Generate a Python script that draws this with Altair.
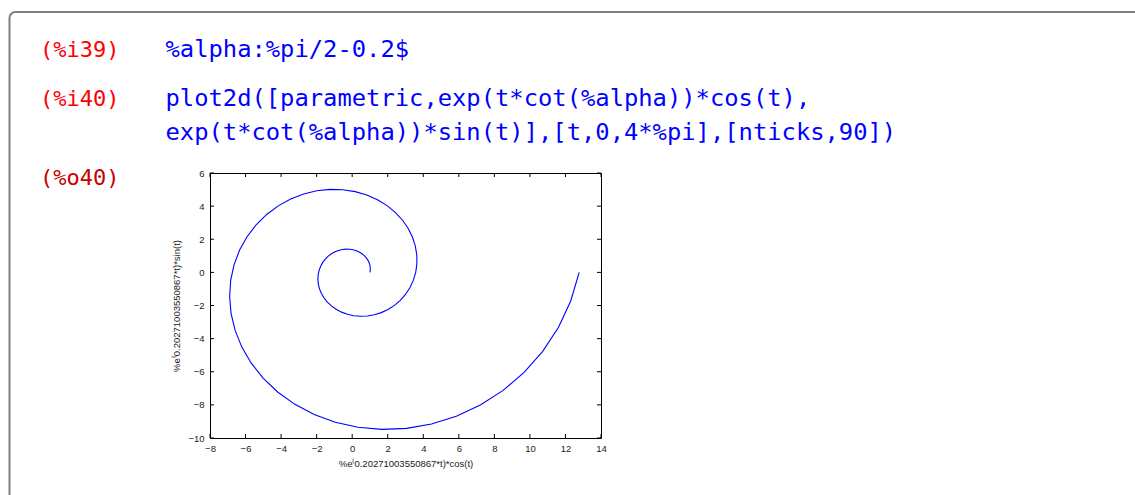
import altair as alt
import pandas as pd

# Session text: prompt labels and the input lines they belong to
prompt_labels = ["(%i39)", "(%i40)", "(%o40)"]
input_lines = [
    "%alpha:%pi/2-0.2$",
    "plot2d([parametric,exp(t*cot(%alpha))*cos(t),",
    "exp(t*cot(%alpha))*sin(t)],[t,0,4*%pi],[nticks,90])",
]

# Sampled points of the logarithmic spiral (91 samples, t = 0 .. 4*pi)
spiral_x = [
    1.000, 1.019, 1.017, 0.995, 0.950, 0.882, 0.793, 0.682, 0.550, 0.399,
    0.230, 0.048, -0.147, -0.350, -0.557, -0.764, -0.968, -1.164, -1.347, -1.512,
    -1.655, -1.772, -1.859, -1.913, -1.929, -1.907, -1.843, -1.737, -1.589, -1.399,
    -1.169, -0.901, -0.598, -0.266, 0.091, 0.468, 0.856, 1.249, 1.639, 2.018,
    2.377, 2.706, 2.999, 3.246, 3.440, 3.574, 3.641, 3.636, 3.554, 3.394,
    3.154, 2.834, 2.436, 1.965, 1.425, 0.824, 0.170, -0.525, -1.249, -1.990,
    -2.732, -3.461, -4.160, -4.812, -5.403, -5.915, -6.334, -6.645, -6.836, -6.895,
    -6.815, -6.587, -6.209, -5.679, -5.000, -4.177, -3.219, -2.139, -0.951, 0.327,
    1.671, 3.059, 4.465, 5.859, 7.212, 8.493, 9.673, 10.719, 11.602, 12.296, 12.773,
]
spiral_y = [
    0.000, 0.143, 0.292, 0.443, 0.593, 0.741, 0.881, 1.011, 1.127, 1.227,
    1.307, 1.364, 1.397, 1.402, 1.378, 1.324, 1.239, 1.124, 0.978, 0.804,
    0.602, 0.377, 0.130, -0.134, -0.410, -0.694, -0.980, -1.262, -1.534, -1.791,
    -2.024, -2.230, -2.400, -2.531, -2.616, -2.652, -2.635, -2.561, -2.430, -2.241,
    -1.994, -1.691, -1.335, -0.931, -0.484, 0.000, 0.512, 1.042, 1.582, 2.121,
    2.647, 3.148, 3.612, 4.029, 4.385, 4.671, 4.876, 4.992, 5.010, 4.925,
    4.732, 4.429, 4.017, 3.496, 2.873, 2.153, 1.346, 0.465, -0.478, -1.466,
    -2.480, -3.502, -4.511, -5.484, -6.400, -7.235, -7.968, -8.578, -9.045, -9.350,
    -9.478, -9.416, -9.154, -8.686, -8.010, -7.127, -6.044, -4.772, -3.327, -1.728, 0.000,
]

x_ticks = [-8, -6, -4, -2, 0, 2, 4, 6, 8, 10, 12, 14]
y_ticks = [-10, -8, -6, -4, -2, 0, 2, 4, 6]
x_title = "%e\u207d0.20271003550867*t)*cos(t)"
y_title = "%e\u207d0.20271003550867*t)*sin(t)"

W, H = 391, 265
LEFT, TOP = 210, 173
TICK = 4
CODE_FONT = "DejaVu Sans Mono"
PLOT_FONT = "Liberation Sans"
PLOT_TEXT = "#1a1a1a"

curve = pd.DataFrame({"step": list(range(len(spiral_x))), "x": spiral_x, "y": spiral_y})
xt = pd.DataFrame({"x": x_ticks})
yt = pd.DataFrame({"y": y_ticks})
one = pd.DataFrame({"a": [0]})

xs = alt.Scale(domain=[-8, 14], nice=False, zero=False)
ys = alt.Scale(domain=[-10, 6], nice=False, zero=False)

axis_common = dict(
    ticks=False, tickSize=0, domain=False, grid=False,
    labelFont=PLOT_FONT, labelFontSize=9.5, labelColor=PLOT_TEXT,
    labelOverlap=False, labelFlush=False,
    titleFont=PLOT_FONT, titleFontSize=9.5, titleFontWeight="normal",
    titleColor=PLOT_TEXT,
)
x_axis = alt.Axis(
    values=x_ticks, labelPadding=5, title=x_title,
    titleX=W / 2, titleY=25, titleAlign="center", titleBaseline="middle",
    **axis_common)
y_axis = alt.Axis(
    values=y_ticks, labelPadding=6, title=y_title,
    titleX=-34, titleY=H / 2, titleAngle=270, titleAlign="center",
    titleBaseline="middle", **axis_common)

X = alt.X("x:Q", scale=xs, axis=x_axis, title=x_title)
Y = alt.Y("y:Q", scale=ys, axis=y_axis, title=y_title)

# cell frame with rounded corner
frame = alt.Chart(one).mark_rect(
    filled=False, stroke="#7f7f7f", strokeWidth=2, cornerRadius=6
).encode(
    x=alt.value(9.5 - LEFT), x2=alt.value(1200 - LEFT),
    y=alt.value(12 - TOP), y2=alt.value(560 - TOP),
)

spiral = alt.Chart(curve).mark_line(color="#0000ff", strokeWidth=1.1).encode(
    x=X, y=Y, order="step:Q",
)

# inward tick marks on all four sides of the border
bottom_ticks = alt.Chart(xt).mark_rule(color="black", strokeWidth=1).encode(
    x=X, y=alt.value(H), y2=alt.value(H - TICK))
top_ticks = alt.Chart(xt).mark_rule(color="black", strokeWidth=1).encode(
    x=X, y=alt.value(0), y2=alt.value(TICK))
left_ticks = alt.Chart(yt).mark_rule(color="black", strokeWidth=1).encode(
    y=Y, x=alt.value(0), x2=alt.value(TICK))
right_ticks = alt.Chart(yt).mark_rule(color="black", strokeWidth=1).encode(
    y=Y, x=alt.value(W), x2=alt.value(W - TICK))


def text_at(txt, px, py, color, size):
    return alt.Chart(pd.DataFrame({"t": [txt]})).mark_text(
        font=CODE_FONT, fontSize=size, color=color, align="left",
        baseline="alphabetic",
    ).encode(text="t:N", x=alt.value(px - LEFT), y=alt.value(py - TOP))


texts = [
    text_at(prompt_labels[0], 40, 57, "#ff0000", 22),
    text_at(input_lines[0], 165.5, 57, "#0000ff", 23.8),
    text_at(prompt_labels[1], 40, 106, "#ff0000", 22),
    text_at(input_lines[1], 165.5, 106, "#0000ff", 23.8),
    text_at(input_lines[2], 165.5, 140, "#0000ff", 23.8),
    text_at(prompt_labels[2], 40, 185, "#c80000", 22),
]

chart = alt.layer(
    spiral, frame, bottom_ticks, top_ticks, left_ticks, right_ticks, *texts
).properties(
    width=W, height=H,
    autosize=alt.AutoSizeParams(type="none"),
    padding={"left": LEFT, "top": TOP, "right": 1135 - LEFT - W, "bottom": 495 - TOP - H},
    background="white",
).configure_view(stroke="black", strokeWidth=1)

chart.save("out.html", embed_options={"renderer": "svg", "actions": False})
